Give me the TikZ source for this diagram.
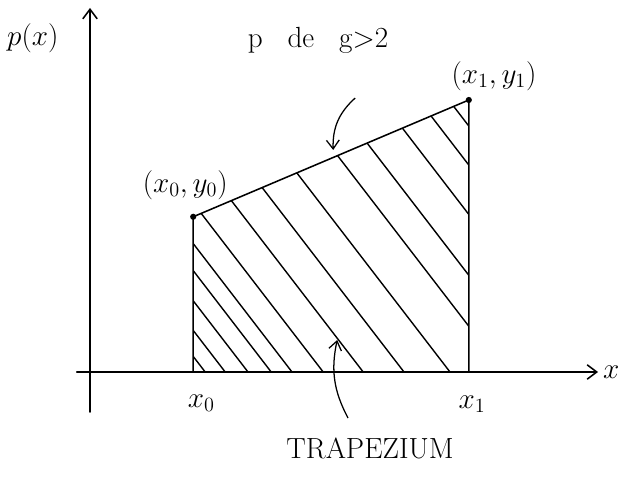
\documentclass[tikz,border=0pt]{standalone}
\usepackage{amsmath,amssymb}
\usepackage{tikz}
\usetikzlibrary{arrows.meta,positioning,calc}
\definecolor{PenInk}{RGB}{0, 0, 0}
\tikzset{
  penline/.style={line width=1.1pt, PenInk, line cap=round, line join=round},
  hatchline/.style={line width=1pt, PenInk},
  pointer/.style={line width=0.9pt, PenInk, -{Straight Barb[length=2.2mm, width=3.2mm]}},
  lbl/.style={font=\huge, text=PenInk, inner sep=1pt}
}

\begin{document}
\begin{tikzpicture}
        \useasboundingbox (-2.25,-2.6) rectangle (13.55,9.3);

        % Ejes
        \draw[penline, -{Straight Barb[length=2.4mm, width=3.6mm]}] (-0.33,0) -- (12.7,0) node[lbl, right=2pt] (xlab) {$x$};
        \draw[penline, -{Straight Barb[length=2.4mm, width=3.6mm]}] (0,-1.0) -- (0,9.1);
        \node[lbl] (pxlab) at (-1.43,8.35) {$p(x)$};
        \node[lbl] (title) at (5.7,8.3) {p\hspace{0.55em} de\hspace{0.55em} g>2};

        % Puntos
        \coordinate (P0) at (2.58,3.88);
        \coordinate (P1) at (9.47,6.8);
        \coordinate (A) at (2.58,0);
        \coordinate (B) at (9.47,0);

        % Rayado
        \begin{scope}
          \clip (A) -- (P0) -- (P1) -- (B) -- cycle;
          \foreach \c in {2.88,3.38,3.95,4.53,5.05,5.83,6.83,7.85,9.0,10.35,11.33,12.5,13.45,14.2}
            \draw[hatchline] (\c+0.2,-0.26) -- ++(-5.6,7.28);
        \end{scope}

        % Trapecio
        \draw[penline] (A) -- (P0) -- (P1) -- (B);
        \fill[PenInk] (P0) circle (2.2pt);
        \fill[PenInk] (P1) circle (2.2pt);

        \node[lbl] (p0lab) at (2.38,4.68) {$(x_0,y_0)$};
        \node[lbl] (p1lab) at (10.1,7.4) {$(x_1,y_1)$};
        \node[lbl] (x0lab) at (2.78,-0.78) {$x_0$};
        \node[lbl] (x1lab) at (9.55,-0.8) {$x_1$};
        \node[lbl] (trap) at (7.0,-1.9) {TRAPEZIUM};

        % Flechas
        \coordinate (topfrom) at (6.63,6.85);
        \coordinate (topto) at (6.08,5.55);
        \coordinate (botfrom) at (6.45,-1.15);
        \coordinate (botto) at (6.18,0.8);
        \draw[pointer] (topfrom) to[bend right=25] (topto);
        \draw[pointer] (botfrom) to[bend left=20] (botto);
      \end{tikzpicture}
\end{document}
